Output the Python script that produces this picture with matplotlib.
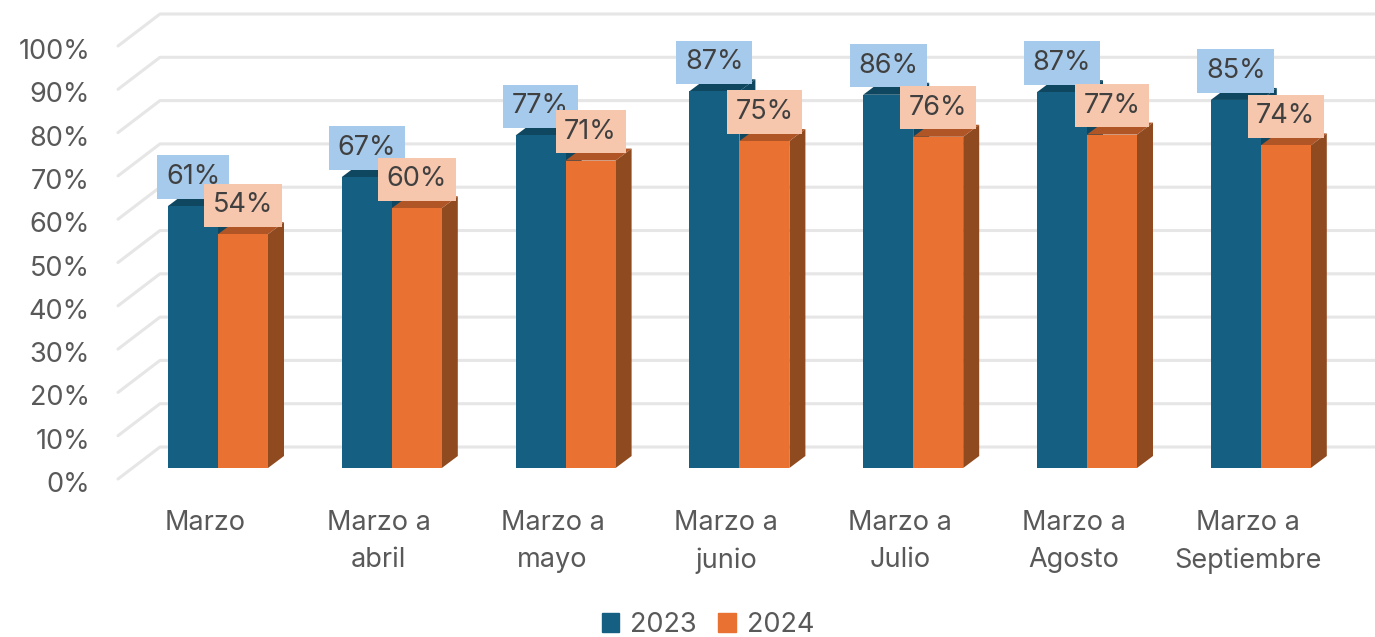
"""Marzo acumulado 2023 vs 2024, fake 3D columns like the Excel original."""
import matplotlib
matplotlib.use("Agg")
import matplotlib.pyplot as plt
from matplotlib.patches import Polygon, Patch
from matplotlib.transforms import ScaledTranslation

plt.rcParams["font.family"] = ["Inter", "DejaVu Sans"]

categories = ["Marzo", "Marzo a\nabril", "Marzo a\nmayo", "Marzo a\njunio",
              "Marzo a\nJulio", "Marzo a\nAgosto", "Marzo a\nSeptiembre"]
values_2023 = [60.5, 67.2, 76.8, 87.0, 86.2, 86.8, 85.0]
values_2024 = [54.0, 60.0, 71.0, 75.5, 76.5, 77.0, 74.5]
labels_2023 = ["61%", "67%", "77%", "87%", "86%", "87%", "85%"]
labels_2024 = ["54%", "60%", "71%", "75%", "76%", "77%", "74%"]
ticks = [0, 10, 20, 30, 40, 50, 60, 70, 80, 90, 100]

W, H, DPI = 1375, 637, 100
X_PER_CAT = 173.8   # px between groups
Y_PER_PCT = 4.33    # px per percent
BAR_W = 50 / X_PER_CAT
DX, DY = 16 / X_PER_CAT, 12 / Y_PER_PCT   # column depth
FS = 19.5

BLUE, BLUE_TOP, BLUE_SIDE = "#156082", "#0F4761", "#0F4761"
ORANGE, ORANGE_TOP, ORANGE_SIDE = "#E97132", "#AF5526", "#8F4A20"
BOX_BLUE, BOX_ORANGE = "#A6CAEC", "#F6C6AD"
GRID = "#E6E6E6"

fig = plt.figure(figsize=(W / DPI, H / DPI), dpi=DPI)
ax = fig.add_axes([118 / W, 1 - 479 / H, 1 - 118 / W, (479 - 14) / H])
ax.set_xlim((118 - 218) / X_PER_CAT, (W - 218) / X_PER_CAT)
ax.set_ylim(-11 / Y_PER_PCT, 454 / Y_PER_PCT)
for s in ax.spines.values():
    s.set_visible(False)

# back wall lines with the diagonal on the left side wall
xf, xb = (118 - 218) / X_PER_CAT, (160 - 218) / X_PER_CAT
back_dy, front_dy = 21 / Y_PER_PCT, -11 / Y_PER_PCT
for t in ticks:
    ax.plot([xf, xb, ax.get_xlim()[1]], [t + front_dy, t + back_dy, t + back_dy],
            color=GRID, lw=2.2, zorder=1, solid_capstyle="round", clip_on=False)


def column(x, v, front, top, side, z):
    ax.add_patch(Polygon([(x + BAR_W, 0), (x + BAR_W + DX, DY), (x + BAR_W + DX, v + DY), (x + BAR_W, v)],
                         color=side, lw=0, zorder=z))
    ax.add_patch(Polygon([(x, v), (x + DX, v + DY), (x + BAR_W + DX, v + DY), (x + BAR_W, v)],
                         color=top, lw=0, zorder=z))
    ax.bar(x, v, BAR_W, align="edge", color=front, zorder=z + 0.1)


def label(x, v, txt, fc, z):
    ax.annotate(txt, (x + BAR_W / 2, v), xytext=(0, 29 * 72 / DPI), textcoords="offset points",
                ha="center", va="center", fontsize=FS, color="#404040", zorder=z,
                bbox=dict(boxstyle="square,pad=0.32", fc=fc, ec="none"))


for i in range(len(categories)):
    column(i - BAR_W, values_2023[i], BLUE, BLUE_TOP, BLUE_SIDE, 2 + i * 0.01)
    column(i, values_2024[i], ORANGE, ORANGE_TOP, ORANGE_SIDE, 3 + i * 0.01)
for i in range(len(categories)):
    label(i - BAR_W, values_2023[i], labels_2023[i], BOX_BLUE, 5 + i * 0.01)
    label(i, values_2024[i], labels_2024[i], BOX_ORANGE, 6 + i * 0.01)

ax.set_yticks(ticks, [f"{t}%" for t in ticks])
ax.set_xticks(range(len(categories)), categories)
ax.tick_params(axis="both", length=0, labelsize=FS, labelcolor="#595959")
ax.tick_params(axis="y", pad=28 * 72 / DPI)
ax.tick_params(axis="x", pad=31 * 72 / DPI)
for lb in ax.get_yticklabels():
    lb.set_transform(lb.get_transform() + ScaledTranslation(0, -14 / DPI, fig.dpi_scale_trans))
for lb in ax.get_xticklabels():
    lb.set_transform(lb.get_transform() + ScaledTranslation(-13 / DPI, 0, fig.dpi_scale_trans))
    lb.set_linespacing(1.55)

handles = [Patch(color=BLUE, label="2023"), Patch(color=ORANGE, label="2024")]
fig.legend(handles=handles, loc="center", bbox_to_anchor=(708 / W, 1 - 625 / H), ncol=2, frameon=False,
           fontsize=FS, labelcolor="#595959", handlelength=0.65, handleheight=0.65,
           handletextpad=0.4, columnspacing=0.8, borderpad=0)

fig.savefig("out.png", dpi=DPI)
